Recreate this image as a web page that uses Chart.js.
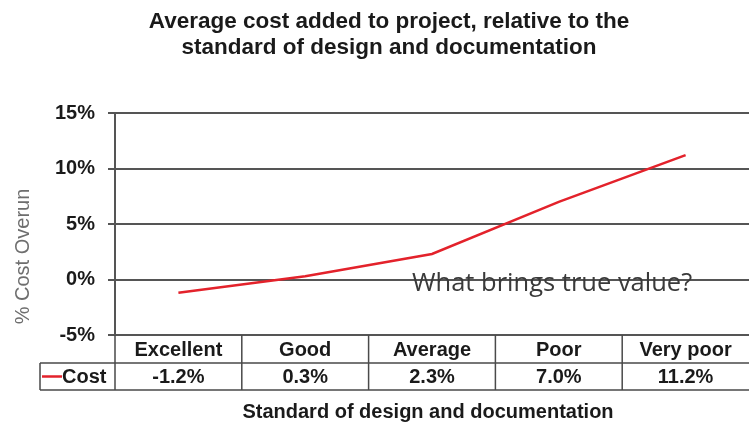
<!DOCTYPE html>
<html>
<head>
<meta charset="utf-8">
<script src="https://cdn.jsdelivr.net/npm/chart.js@4.4.1/dist/chart.umd.min.js"></script>
<style>
  html, body { margin: 0; padding: 0; background: #fff; }
  #wrap { width: 749px; height: 431px; position: relative; }
</style>
</head>
<body>
<div id="wrap"><canvas id="chart"></canvas></div>
<script>
// cost overrun by design standard — line + data table underneath

const categories = ['Excellent', 'Good', 'Average', 'Poor', 'Very poor'];
const costValues = [-1.2, 0.3, 2.3, 7.0, 11.2];
const yTicks = [-5, 0, 5, 10, 15];
const titleLines = ['Average cost added to project, relative to the', 'standard of design and documentation'];
const xTitle = 'Standard of design and documentation';
const yTitle = '% Cost Overun';
const seriesName = 'Cost';
const note = 'What brings true value?';

const FONT = '"Liberation Sans", Arial, sans-serif';
const COLORS = {
  line: '#e3222b',
  grid: '#555',
  table: '#4a4a4a',
  text: '#1a1a1a',
  yTitle: '#6e6e6e',
  note: '#3a3a3a',
};

const tablePlugin = {
  id: 'dataTable',
  afterDraw(chart) {
    const { ctx, chartArea, scales } = chart;
    const x = scales.x;
    const y = scales.y;
    const left = chartArea.left;
    const right = chartArea.right;
    const top = chartArea.bottom;
    const row1 = top + 28;
    const row2 = row1 + 27;
    const legendLeft = 40;
    const colW = (right - left) / categories.length;

    ctx.save();

    // chart title
    ctx.fillStyle = COLORS.text;
    ctx.font = `bold 22.5px ${FONT}`;
    ctx.textAlign = 'center';
    ctx.textBaseline = 'alphabetic';
    titleLines.forEach((t, i) => ctx.fillText(t, 389, 28 + i * 26));

    ctx.textBaseline = 'middle';
    ctx.strokeStyle = COLORS.table;
    ctx.lineWidth = 1.5;
    ctx.beginPath();
    ctx.moveTo(legendLeft, row1); ctx.lineTo(right, row1);
    ctx.moveTo(legendLeft, row2); ctx.lineTo(right, row2);
    ctx.moveTo(legendLeft, row1); ctx.lineTo(legendLeft, row2);
    for (let i = 0; i < categories.length; i++) {
      const bx = left + i * colW;
      ctx.moveTo(bx, top); ctx.lineTo(bx, row2);
    }
    ctx.stroke();

    ctx.font = `bold 20px ${FONT}`;
    categories.forEach((c, i) => {
      const cx = x.getPixelForValue(i);
      ctx.fillText(c, cx, (top + row1) / 2 + 1);
      ctx.fillText(costValues[i].toFixed(1) + '%', cx, (row1 + row2) / 2 + 1);
    });

    // legend key in first cell
    const ly = (row1 + row2) / 2;
    ctx.strokeStyle = COLORS.line;
    ctx.lineWidth = 2.5;
    ctx.beginPath();
    ctx.moveTo(legendLeft + 2, ly); ctx.lineTo(legendLeft + 22, ly);
    ctx.stroke();
    ctx.textAlign = 'left';
    ctx.fillText(seriesName, legendLeft + 22, ly + 1);

    // x axis title
    ctx.textAlign = 'center';
    ctx.fillText(xTitle, (left + right) / 2 - 4, row2 + 22);

    // y axis title
    ctx.save();
    ctx.translate(23, (chartArea.top + row2) / 2 + 5);
    ctx.rotate(-Math.PI / 2);
    ctx.fillStyle = COLORS.yTitle;
    ctx.font = `20px ${FONT}`;
    ctx.fillText(yTitle, 0, 0);
    ctx.restore();

    // note in plot
    ctx.fillStyle = COLORS.note;
    ctx.font = `25.5px "Open Sans", sans-serif`;
    ctx.textAlign = 'left';
    ctx.textBaseline = 'alphabetic';
    ctx.fillText(note, x.getPixelForValue(2) - 20, y.getPixelForValue(0) + 11);
    ctx.restore();
  },
};

new Chart(document.getElementById('chart'), {
  type: 'line',
  data: {
    labels: categories,
    datasets: [{
      label: seriesName,
      data: costValues,
      borderColor: COLORS.line,
      borderWidth: 2.5,
      pointRadius: 0,
      tension: 0,
    }],
  },
  options: {
    responsive: true,
    maintainAspectRatio: false,
    animation: false,
    layout: { padding: { left: 0, right: 0, top: 113, bottom: 96 } },
    plugins: {
      legend: { display: false },
      tooltip: { enabled: false },
      title: { display: false },
    },
    scales: {
      x: { type: 'category', offset: true, display: false },
      y: {
        min: yTicks[0],
        max: yTicks[yTicks.length - 1],
        afterBuildTicks: (s) => { s.ticks = yTicks.map((v) => ({ value: v })); },
        afterFit: (s) => { s.width = 115; },
        ticks: {
          color: COLORS.text,
          font: { family: FONT, size: 20, weight: 'bold' },
          padding: 13,
          callback: (v) => v + '%',
        },
        grid: { color: COLORS.grid, lineWidth: 2, tickLength: 7 },
        border: { display: true, color: COLORS.grid, width: 2 },
      },
    },
  },
  plugins: [tablePlugin],
});
</script>
</body>
</html>
